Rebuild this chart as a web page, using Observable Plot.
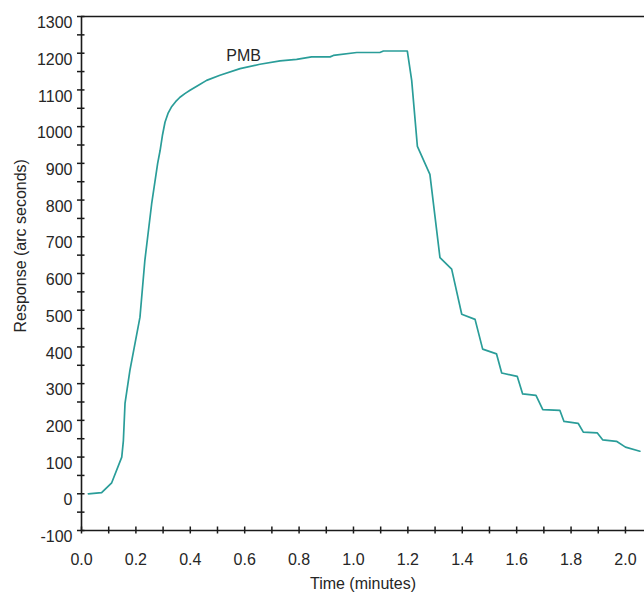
<!DOCTYPE html>
<html>
<head>
<meta charset="utf-8">
<script src="https://cdn.jsdelivr.net/npm/d3@7"></script>
<script src="https://cdn.jsdelivr.net/npm/@observablehq/plot@0.6"></script>
<style>
  html, body { margin: 0; padding: 0; background: #fff; }
  svg { display: block; }
</style>
</head>
<body>
<div id="chart"></div>
<script>
// Time (minutes) and response (arc seconds)
const time = [0.025, 0.074, 0.111, 0.148, 0.154, 0.160, 0.178, 0.215, 0.233, 0.258, 0.280, 0.289,
  0.298, 0.307, 0.318, 0.332, 0.346, 0.362, 0.380, 0.399, 0.430, 0.460, 0.509, 0.583, 0.656, 0.730, 0.791, 0.846, 0.914, 0.926,
  1.012, 1.097, 1.110, 1.198, 1.214, 1.235, 1.281, 1.318, 1.361, 1.398, 1.447, 1.475, 1.526,
  1.545, 1.602, 1.622, 1.671, 1.696, 1.759, 1.774, 1.826, 1.845, 1.896, 1.916, 1.967, 2.000, 2.053];
const response = [0, 3, 30, 100, 145, 246, 336, 481, 636, 790, 900, 935,
  978, 1012, 1036, 1055, 1068, 1080, 1090, 1099, 1113, 1126, 1140, 1158, 1170, 1179, 1183, 1190, 1190, 1194,
  1202, 1202, 1206, 1206, 1126, 946, 870, 643, 612, 489, 475, 394, 381,
  329, 320, 272, 268, 229, 227, 197, 192, 168, 166, 147, 143, 127, 116];

const xTickLabels = [0, 0.2, 0.4, 0.6, 0.8, 1.0, 1.2, 1.4, 1.6, 1.8, 2.0];
const xTickMarks = [0, 0.1, 0.2, 0.3, 0.4, 0.5, 0.6, 0.7, 0.8, 0.9, 1.0, 1.1, 1.2, 1.3, 1.4, 1.5, 1.6, 1.7, 1.8, 1.9, 2.0];
const yTickLabels = [-100, 0, 100, 200, 300, 400, 500, 600, 700, 800, 900, 1000, 1100, 1200, 1300];
const yTickMarks = d3.range(-100, 1301, 50);

const seriesLabel = [{x: 0.596, y: 1192, text: "PMB"}];
const xTitle = "Time (minutes)";
const yTitle = "Response (arc seconds)";

const data = time.map((t, i) => ({t, r: response[i]}));

const axisColor = "#1a1a1a";
const textColor = "#262626";
const lineColor = "#2a9d99";

const chart = Plot.plot({
  width: 644,
  height: 596,
  marginLeft: 81,
  marginRight: 0,
  marginTop: 16,
  marginBottom: 66,
  style: {fontFamily: "'Liberation Sans', Arial, sans-serif", fontSize: "16px", color: textColor, background: "#fff"},
  x: {domain: [0, 2.07], axis: null},
  y: {domain: [-100, 1300], axis: null},
  marks: [
    // axis lines and top frame
    Plot.ruleX([0], {y1: -100, y2: 1300, stroke: axisColor, strokeWidth: 1.6}),
    Plot.ruleY([-100], {x1: 0, x2: 2.07, stroke: axisColor, strokeWidth: 1.6}),
    Plot.ruleY([1300], {x1: 0, x2: 2.07, stroke: axisColor, strokeWidth: 1.6}),
    // tick marks crossing the axes
    Plot.ruleY(yTickMarks, {y: d => d, x1: 0, x2: 0, insetLeft: -4, insetRight: -3.5, stroke: axisColor, strokeWidth: 1.5}),
    Plot.ruleX(xTickMarks, {x: d => d, y1: -100, y2: -100, insetTop: -3.5, insetBottom: -3.5, stroke: axisColor, strokeWidth: 1.5}),
    // tick labels
    Plot.text(yTickLabels, {x: 0, y: d => d, text: d => String(d), textAnchor: "end", dx: -9, dy: 6.5, fill: textColor, fontSize: 16}),
    Plot.text(xTickLabels, {x: d => d, y: -100, text: d => d.toFixed(1), dy: 29, fill: textColor, fontSize: 16}),
    // axis titles
    Plot.text([xTitle], {frameAnchor: "bottom", dy: 58, text: d => d, fill: textColor, fontSize: 16}),
    Plot.text([yTitle], {frameAnchor: "left", dx: -61, dy: 59, rotate: -90, text: d => d, fill: textColor, fontSize: 16}),
    // series
    Plot.line(data, {x: "t", y: "r", stroke: lineColor, strokeWidth: 1.7, strokeLinejoin: "round"}),
    Plot.text(seriesLabel, {x: "x", y: "y", text: "text", fill: textColor, fontSize: 16})
  ]
});
document.getElementById("chart").appendChild(chart);
</script>
</body>
</html>
